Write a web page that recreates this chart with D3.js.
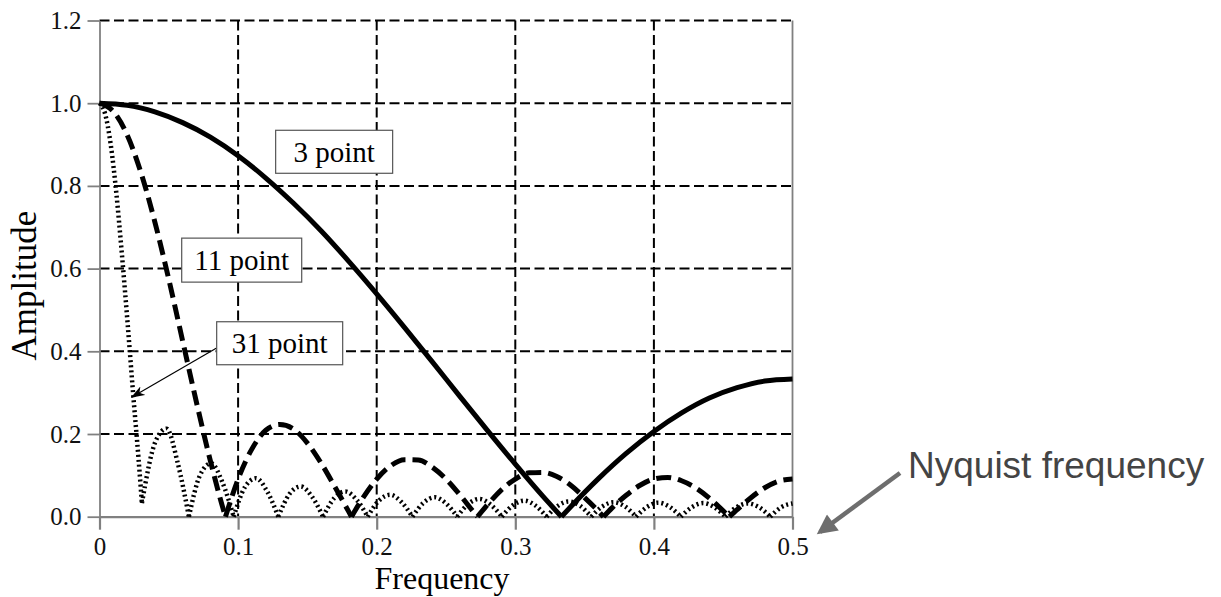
<!DOCTYPE html>
<html lang="en">
<head>
<meta charset="UTF-8">
<title>Moving average frequency response</title>
<script src="https://d3js.org/d3.v7.min.js"></script>
<style>
  body { margin: 0; background: #fff; }
  .tick text { font-family: "Liberation Serif", "Times New Roman", serif; font-size: 25px; fill: #111; }
</style>
</head>
<body>
<div id="chart"></div>
<script>
// tick values
const xTicks = [0, 0.1, 0.2, 0.3, 0.4, 0.5];
const yTicks = [0, 0.2, 0.4, 0.6, 0.8, 1.0, 1.2];

// 3 point filter
const freq3 = [0, 0.02, 0.04, 0.06, 0.08, 0.10, 0.12, 0.14, 0.16, 0.18, 0.20, 0.22, 0.24, 0.26, 0.28, 0.30, 0.32, 0.3333,
  0.34, 0.36, 0.38, 0.40, 0.42, 0.44, 0.46, 0.48, 0.50];
const amp3 = [1, 0.995, 0.979, 0.953, 0.918, 0.873, 0.819, 0.758, 0.691, 0.617, 0.539, 0.458, 0.375, 0.291, 0.208, 0.127, 0.049, 0,
  0.024, 0.092, 0.153, 0.206, 0.251, 0.287, 0.312, 0.328, 0.333];

// 11 point filter
const freq11 = [0, 0.01, 0.02, 0.03, 0.04, 0.05, 0.06, 0.07, 0.08, 0.09, 0.0909,
  0.10, 0.11, 0.12, 0.13, 0.14, 0.15, 0.16, 0.17, 0.18, 0.1818,
  0.19, 0.20, 0.21, 0.22, 0.23, 0.24, 0.25, 0.26, 0.27, 0.2727,
  0.28, 0.29, 0.30, 0.31, 0.32, 0.33, 0.34, 0.35, 0.36, 0.3636,
  0.37, 0.38, 0.39, 0.40, 0.41, 0.42, 0.43, 0.44, 0.45, 0.4545,
  0.46, 0.47, 0.48, 0.49, 0.50];
const amp11 = [1, 0.980, 0.923, 0.831, 0.712, 0.574, 0.425, 0.276, 0.135, 0.010, 0,
  0.091, 0.164, 0.209, 0.223, 0.212, 0.178, 0.129, 0.071, 0.011, 0,
  0.045, 0.091, 0.123, 0.138, 0.137, 0.120, 0.091, 0.053, 0.011, 0,
  0.029, 0.065, 0.091, 0.106, 0.107, 0.097, 0.076, 0.046, 0.013, 0,
  0.022, 0.052, 0.076, 0.091, 0.095, 0.087, 0.070, 0.045, 0.014, 0,
  0.017, 0.046, 0.070, 0.086, 0.091];

// 31 point filter
const freq31 = [0, 0.0040, 0.0081, 0.0121, 0.0161, 0.0202, 0.0242, 0.0282, 0.0306,
  0.0403, 0.0484, 0.0565, 0.0645, 0.0726, 0.0806, 0.0887, 0.0968,
  0.1048, 0.1129, 0.1210, 0.1290, 0.1371, 0.1452, 0.1532, 0.1613,
  0.1694, 0.1774, 0.1855, 0.1935, 0.2016, 0.2097, 0.2177, 0.2258,
  0.2339, 0.2419, 0.2500, 0.2581, 0.2661, 0.2742, 0.2823, 0.2903,
  0.2984, 0.3065, 0.3145, 0.3226, 0.3306, 0.3387, 0.3468, 0.3548,
  0.3629, 0.3710, 0.3790, 0.3871, 0.3952, 0.4032, 0.4113, 0.4194,
  0.4274, 0.4355, 0.4435, 0.4516, 0.4597, 0.4677, 0.4758, 0.4839,
  0.4919, 0.5];
const amp31 = [1, 0.975, 0.900, 0.784, 0.637, 0.471, 0.300, 0.139, 0.033,
  0.181, 0.213, 0.129, 0, 0.101, 0.129, 0.083, 0,
  0.071, 0.093, 0.061, 0, 0.055, 0.073, 0.049, 0,
  0.045, 0.061, 0.041, 0, 0.039, 0.053, 0.036, 0,
  0.034, 0.047, 0.032, 0, 0.031, 0.043, 0.029, 0,
  0.028, 0.039, 0.027, 0, 0.026, 0.037, 0.026, 0,
  0.025, 0.035, 0.025, 0, 0.024, 0.034, 0.024, 0,
  0.023, 0.033, 0.023, 0, 0.023, 0.032, 0.023, 0,
  0.023, 0.032];

const width = 1221, height = 597;
const serif = '"Liberation Serif", "Times New Roman", serif';

const svg = d3.select("#chart")
  .append("svg")
  .attr("width", width)
  .attr("height", height);

const x = d3.scaleLinear().domain([0, 0.5]).range([99.5, 792.5]);
const y = d3.scaleLinear().domain([0, 1.2]).range([516.7, 20.5]);

// grid
const grid = svg.append("g")
  .attr("stroke", "#000")
  .attr("stroke-width", 2)
  .attr("stroke-dasharray", "10,4.5");

grid.selectAll(".vg")
  .data(xTicks.filter(d => d > 0 && d < 0.5))
  .join("line")
  .attr("x1", d => x(d)).attr("x2", d => x(d))
  .attr("y1", y(1.2)).attr("y2", y(0));

grid.selectAll(".hg")
  .data(yTicks.filter(d => d > 0))
  .join("line")
  .attr("x1", x(0)).attr("x2", x(0.5) + 2)
  .attr("y1", d => y(d)).attr("y2", d => y(d));

// axes
const axisGray = "#808080";

const yAxis = svg.append("g")
  .attr("transform", `translate(${x(0)},0)`)
  .call(d3.axisLeft(y).tickValues(yTicks).tickFormat(d3.format(".1f"))
    .tickSize(12).tickSizeOuter(0).tickPadding(6));

const xAxis = svg.append("g")
  .attr("transform", `translate(0,${y(0)})`)
  .call(d3.axisBottom(x).tickValues(xTicks).tickFormat(d => d === 0 ? "0" : d3.format(".1f")(d))
    .tickSize(13).tickSizeOuter(0).tickPadding(8));

yAxis.selectAll("path, line").attr("stroke", axisGray).attr("stroke-width", 1.8);
xAxis.selectAll("path, line").attr("stroke", axisGray).attr("stroke-width", 2.2);

// right frame edge
svg.append("line")
  .attr("x1", x(0.5)).attr("x2", x(0.5))
  .attr("y1", y(1.2)).attr("y2", y(0))
  .attr("stroke", axisGray).attr("stroke-width", 1.8);

// curves, drawn lobe by lobe so the nulls stay sharp
function lobes(freq, amp) {
  const pts = freq.map((f, i) => ({ f: f, a: amp[i] }));
  const out = [];
  let cur = [pts[0]];
  for (let i = 1; i < pts.length; i++) {
    cur.push(pts[i]);
    const isMin = i < pts.length - 1 && pts[i].a <= pts[i - 1].a && pts[i].a <= pts[i + 1].a;
    if (isMin) { out.push(cur); cur = [pts[i]]; }
  }
  out.push(cur);
  return out;
}

const line = d3.line()
  .x(d => x(d.f))
  .y(d => y(d.a))
  .curve(d3.curveMonotoneX);

const series = [
  { freq: freq31, amp: amp31, width: 4.5, dash: "2,3" },
  { freq: freq11, amp: amp11, width: 5, dash: "15,7" },
  { freq: freq3, amp: amp3, width: 5, dash: null }
];

series.forEach(s => {
  svg.append("g").selectAll("path")
    .data(lobes(s.freq, s.amp))
    .join("path")
    .attr("fill", "none")
    .attr("stroke", "#000")
    .attr("stroke-width", s.width)
    .attr("stroke-dasharray", s.dash)
    .attr("d", line);
});

// axis titles
svg.append("text")
  .attr("x", x(0.25) - 4)
  .attr("y", 589)
  .attr("text-anchor", "middle")
  .attr("font-family", serif)
  .attr("font-size", 32)
  .text("Frequency");

svg.append("text")
  .attr("transform", `translate(36,${(y(0) + y(1.2)) / 2 + 17}) rotate(-90)`)
  .attr("text-anchor", "middle")
  .attr("font-family", serif)
  .attr("font-size", 35)
  .text("Amplitude");

// arrow from the 31 point label
const defs = svg.append("defs");
defs.append("marker")
  .attr("id", "barb")
  .attr("viewBox", "0 0 14 10")
  .attr("refX", 13).attr("refY", 5)
  .attr("markerWidth", 14).attr("markerHeight", 10)
  .attr("markerUnits", "userSpaceOnUse")
  .attr("orient", "auto")
  .append("path")
  .attr("d", "M0,0 L14,5 L0,10 L4,5 Z")
  .attr("fill", "#000");

svg.append("line")
  .attr("x1", x(0.0845)).attr("y1", y(0.408))
  .attr("x2", x(0.0232)).attr("y2", y(0.289))
  .attr("stroke", "#000").attr("stroke-width", 1.2)
  .attr("marker-end", "url(#barb)");

// curve labels
const labels = [
  { text: "3 point", f: 0.1693, a: 0.8825, w: 117, h: 43 },
  { text: "11 point", f: 0.1026, a: 0.6205, w: 120, h: 44 },
  { text: "31 point", f: 0.1300, a: 0.4195, w: 126, h: 43 }
];

const lab = svg.append("g").selectAll("g")
  .data(labels)
  .join("g")
  .attr("transform", d => `translate(${x(d.f)},${y(d.a)})`);

lab.append("rect")
  .attr("x", d => -d.w / 2).attr("y", d => -d.h / 2)
  .attr("width", d => d.w).attr("height", d => d.h)
  .attr("fill", "#fff")
  .attr("stroke", "#555").attr("stroke-width", 1.2);

lab.append("text")
  .attr("text-anchor", "middle")
  .attr("dy", "0.34em")
  .attr("font-family", serif)
  .attr("font-size", 29)
  .text(d => d.text);

// Nyquist annotation
defs.append("marker")
  .attr("id", "grayhead")
  .attr("viewBox", "0 0 10 10")
  .attr("refX", 8).attr("refY", 5)
  .attr("markerWidth", 22).attr("markerHeight", 20)
  .attr("markerUnits", "userSpaceOnUse")
  .attr("orient", "auto")
  .append("path")
  .attr("d", "M0,0 L10,5 L0,10 Z")
  .attr("fill", "#6e6e6e");

svg.append("line")
  .attr("x1", 900).attr("y1", 473)
  .attr("x2", 820).attr("y2", 532)
  .attr("stroke", "#6e6e6e").attr("stroke-width", 4.5)
  .attr("marker-end", "url(#grayhead)");

svg.append("text")
  .attr("x", 908).attr("y", 478)
  .attr("font-family", '"Liberation Sans", Arial, sans-serif')
  .attr("font-size", 37)
  .attr("fill", "#444")
  .text("Nyquist frequency");
</script>
</body>
</html>
